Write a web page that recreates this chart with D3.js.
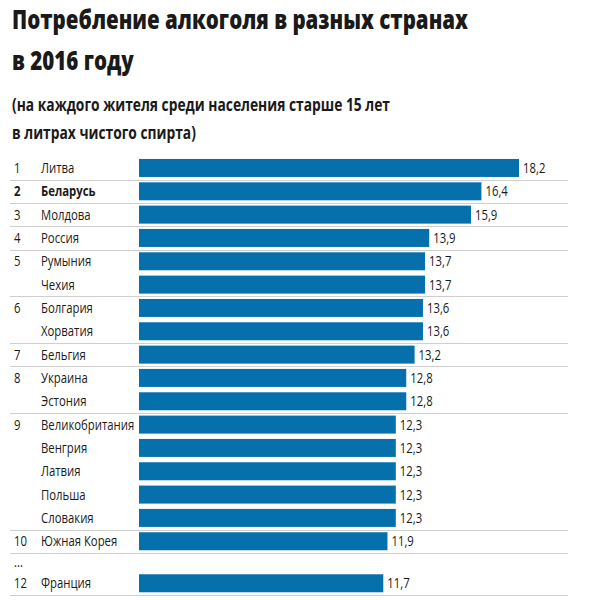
<!DOCTYPE html>
<html><head><meta charset="utf-8">
<script src="https://cdn.jsdelivr.net/npm/d3@7"></script>
<style>body{margin:0;background:#fff} svg{display:block}</style>
</head><body>
<svg id="c" width="600" height="600"></svg>
<script>
const titleLines = ["Потребление алкоголя в разных странах", "в 2016 году"];
const subtitleLines = ["(на каждого жителя среди населения старше 15 лет", "в литрах чистого спирта)"];
const ranks = ["1","2","3","4","5","","6","","7","8","","9","","","","","10","...","12"];
const countries = ["Литва","Беларусь","Молдова","Россия","Румыния","Чехия","Болгария","Хорватия","Бельгия","Украина","Эстония","Великобритания","Венгрия","Латвия","Польша","Словакия","Южная Корея","","Франция"];
const values = [18.2,16.4,15.9,13.9,13.7,13.7,13.6,13.6,13.2,12.8,12.8,12.3,12.3,12.3,12.3,12.3,11.9,null,11.7];
const highlight = "Беларусь";

const svg = d3.select("#c");
const font = '"Open Sans","Noto Sans",sans-serif';
const ink = "#1a1a1a";

// helper: condense text horizontally by factor sx (via textLength)
function condense(sel, sx){
  sel.each(function(){
    const w = this.getComputedTextLength();
    if (w > 0) d3.select(this).attr("textLength", w*sx).attr("lengthAdjust","spacingAndGlyphs");
  });
}

// Titles
const title = svg.selectAll("text.title").data(titleLines).join("text")
  .attr("class","title").attr("x",12).attr("y",(d,i)=>29+i*40.5)
  .attr("font-family",font).attr("font-weight",800).attr("font-size",26)
  .attr("fill",ink).text(d=>d);
condense(title, 456 / title.node().getComputedTextLength());

const sub = svg.selectAll("text.sub").data(subtitleLines).join("text")
  .attr("class","sub").attr("x",12).attr("y",(d,i)=>111+i*28)
  .attr("font-family",font).attr("font-weight","bold").attr("font-size",17.5)
  .attr("fill",ink).text(d=>d);
condense(sub, 378 / sub.node().getComputedTextLength());

// Row layout
const rowH = 23.33, gapH = 18.7, chartTop = 156.3, barH = 18;
const rows = countries.map((c,i)=>({country:c, rank:ranks[i], value:values[i], h: values[i]==null?gapH:rowH}));
let acc = chartTop;
rows.forEach(r=>{ r.y0 = acc; acc += r.h; r.cy = r.y0 + r.h/2; });

const x = d3.scaleLinear().domain([0, d3.max(values)]).range([139, 519]);
const fmt = d3.formatLocale({decimal:",", thousands:" ", grouping:[3], currency:["",""]}).format(".1f");

// separators
const sepRows = rows.filter((r,i)=> r.value!=null && (i===rows.length-1 || rows[i+1].rank!==""));
svg.selectAll("line.sep").data(sepRows).join("line")
  .attr("class","sep").attr("x1",10).attr("x2",568)
  .attr("y1",r=>Math.round(r.y0+r.h)+0.5).attr("y2",r=>Math.round(r.y0+r.h)+0.5)
  .attr("stroke","#cfcfcf").attr("stroke-width",1);

const dataRows = rows.filter(r=>r.value!=null);
svg.selectAll("rect.bar").data(dataRows).join("rect")
  .attr("class","bar").attr("x",x(0)).attr("y",r=>r.cy-barH/2)
  .attr("width",r=>x(r.value)-x(0)).attr("height",barH).attr("fill","#0670ad");

const lsx = 0.81, lfs = 14;
const vals = svg.selectAll("text.val").data(dataRows).join("text")
  .attr("class","val").attr("x",r=>x(r.value)+4).attr("y",r=>r.cy+5)
  .attr("font-family",font).attr("font-size",lfs).attr("fill",ink)
  .text(r=>fmt(r.value));
condense(vals, lsx);

const rk = svg.selectAll("text.rank").data(rows).join("text")
  .attr("class","rank").attr("x",14).attr("y",r=>r.cy+5)
  .attr("font-family",font).attr("font-size",lfs).attr("fill",ink)
  .attr("font-weight",r=>r.country===highlight?"bold":"normal")
  .text(r=>r.rank);
condense(rk, lsx);

const ct = svg.selectAll("text.country").data(dataRows).join("text")
  .attr("class","country").attr("x",41).attr("y",r=>r.cy+5)
  .attr("font-family",font).attr("font-size",lfs).attr("fill",ink)
  .attr("font-weight",r=>r.country===highlight?"bold":"normal")
  .text(r=>r.country);
condense(ct, lsx);
</script>
</body></html>
